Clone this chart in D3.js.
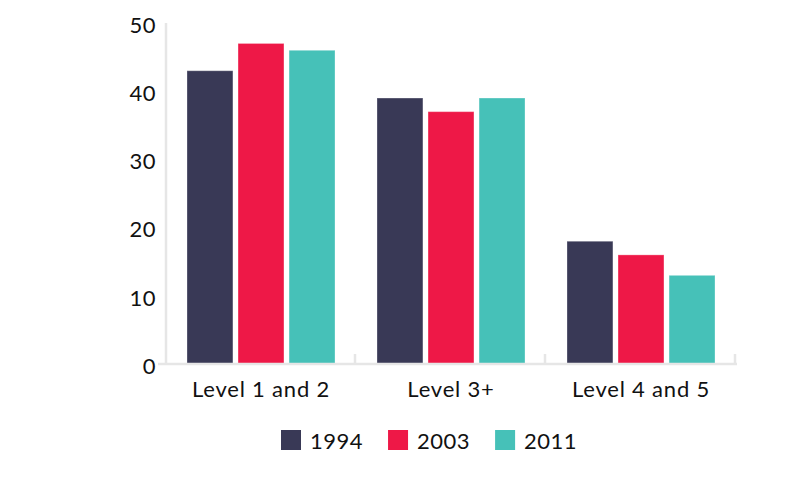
<!DOCTYPE html>
<html>
<head>
<meta charset="utf-8">
<script src="https://cdn.jsdelivr.net/npm/d3@7"></script>
<style>
  body { margin: 0; background: #fff; }
  text { font-family: Lato, "Open Sans", sans-serif; fill: #111; }
</style>
</head>
<body>
<script>
'use strict';

// chart data
const levels = ["Level 1 and 2", "Level 3+", "Level 4 and 5"];
const years = ["1994", "2003", "2011"];
const values1994 = [43, 39, 18];
const values2003 = [47, 37, 16];
const values2011 = [46, 39, 13];
const yTicks = [0, 10, 20, 30, 40, 50];
const colors = ["#393956", "#ee1847", "#46c1b8"];

const width = 800, height = 481;

const svg = d3.select("body").append("svg")
  .attr("width", width)
  .attr("height", height);

// rows for the grouped bars
let series = [values1994, values2003, values2011];
let rows = [];
levels.forEach(function(lvl, i) {
  years.forEach(function(yr, j) {
    rows.push({level: lvl, year: yr, value: series[j][i]});
  });
});

let x = d3.scaleBand()
  .domain(levels)
  .range([166, 736]);

let xInner = d3.scaleBand()
  .domain(years)
  .range([21, 169])
  .paddingInner(0.1);

let y = d3.scaleLinear()
  .domain([0, 50])
  .range([364, 23]);

let color = d3.scaleOrdinal()
  .domain(years)
  .range(colors);

// y axis line
svg.append("line")
  .attr("x1", 166).attr("x2", 166)
  .attr("y1", y(50)).attr("y2", 365)
  .attr("stroke", "#e6e6e6")
  .attr("stroke-width", 2.5);

// bars
svg.selectAll(".bar")
  .data(rows)
  .enter().append("rect")
  .attr("class", "bar")
  .attr("x", d => x(d.level) + xInner(d.year))
  .attr("y", d => y(d.value))
  .attr("width", xInner.bandwidth())
  .attr("height", d => y(0) - y(d.value))
  .attr("fill", d => color(d.year))
  .attr("stroke", "#fff")
  .attr("stroke-opacity", 0.3)
  .attr("stroke-width", 1);

// x axis with ticks at band edges
let xAxis = svg.append("g");
xAxis.append("line")
  .attr("x1", 158).attr("x2", 737)
  .attr("y1", 364).attr("y2", 364)
  .attr("stroke", "#e6e6e6")
  .attr("stroke-width", 2.5);
xAxis.selectAll(".tick")
  .data(levels)
  .enter().append("line")
  .attr("x1", d => x(d) + x.bandwidth() - 1)
  .attr("x2", d => x(d) + x.bandwidth() - 1)
  .attr("y1", 354).attr("y2", 364)
  .attr("stroke", "#e6e6e6")
  .attr("stroke-width", 2.5);
xAxis.selectAll(".lbl")
  .data(levels)
  .enter().append("text")
  .attr("x", d => x(d) + x.bandwidth() / 2)
  .attr("y", 397)
  .attr("text-anchor", "middle")
  .style("font-size", "22px")
  .style("letter-spacing", "0.8px")
  .text(d => d);

// y tick labels
svg.selectAll(".ytick")
  .data(yTicks)
  .enter().append("text")
  .attr("x", 156)
  .attr("y", d => y(d) + 2)
  .attr("dy", "0.35em")
  .attr("text-anchor", "end")
  .style("font-size", "22px")
  .style("letter-spacing", "0.5px")
  .text(d => d);

// legend
let legend = svg.append("g");
let lx = 281;
years.forEach(function(yr) {
  legend.append("rect")
    .attr("x", lx).attr("y", 430)
    .attr("width", 20).attr("height", 20)
    .attr("fill", color(yr));
  let t = legend.append("text")
    .attr("x", lx + 29)
    .attr("y", 449)
    .style("font-size", "22px")
    .style("letter-spacing", "0.5px")
    .text(yr);
  lx += 29 + t.node().getComputedTextLength() + 25;
});
</script>
</body>
</html>
